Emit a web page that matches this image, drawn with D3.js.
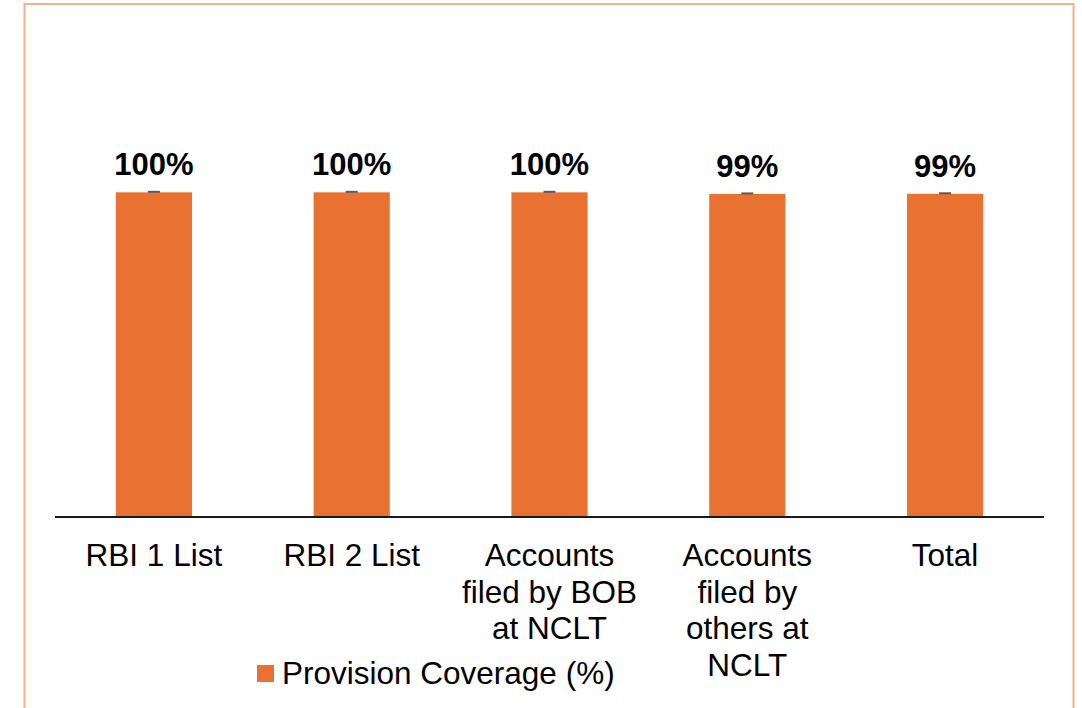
<!DOCTYPE html>
<html>
<head>
<meta charset="utf-8">
<script src="https://cdn.jsdelivr.net/npm/d3@7/dist/d3.min.js"></script>
<style>
  html, body { margin: 0; padding: 0; background: #fff; }
  svg { display: block; font-family: "Liberation Sans", Arial, sans-serif; }
</style>
</head>
<body>
<svg id="chart" width="1082" height="708"></svg>
<script>
const categories = ["RBI 1 List", "RBI 2 List", "Accounts\nfiled by BOB\nat NCLT", "Accounts\nfiled by\nothers at\nNCLT", "Total"];
const values = [99.9, 99.9, 99.9, 99.4, 99.45];
const valueLabels = ["100%", "100%", "100%", "99%", "99%"];
const seriesName = "Provision Coverage (%)";

const W = 1082, H = 708;
const svg = d3.select("#chart");

// frame
svg.append("path")
  .attr("d", `M24.5,${H + 5} L24.5,4 L1073.5,4 L1073.5,${H + 5}`)
  .attr("fill", "none").attr("stroke", "#F4B08A").attr("stroke-width", 2);

const x = d3.scaleBand().domain(categories).range([55, 1044])
  .paddingInner(0.615).paddingOuter(0.3075);
const y = d3.scaleLinear().domain([0, 120]).range([517, 127]);

const g = svg.append("g");

g.selectAll("rect.bar").data(categories).join("rect")
  .attr("class", "bar")
  .attr("x", d => x(d))
  .attr("width", x.bandwidth())
  .attr("y", (d, i) => y(values[i]))
  .attr("height", (d, i) => y(0) - y(values[i]))
  .attr("fill", "#E97132");

// small caps on top of bars
g.selectAll("rect.cap").data(categories).join("rect")
  .attr("class", "cap")
  .attr("x", d => x(d) + x.bandwidth() / 2 - 6)
  .attr("width", 12)
  .attr("y", (d, i) => y(values[i]) - 1.5)
  .attr("height", 2)
  .attr("fill", "#5A5A5A");

// value labels
g.selectAll("text.val").data(categories).join("text")
  .attr("class", "val")
  .attr("x", d => x(d) + x.bandwidth() / 2)
  .attr("y", (d, i) => y(values[i]) - 17)
  .attr("text-anchor", "middle")
  .attr("font-size", 31).attr("font-weight", "bold").attr("fill", "#000")
  .text((d, i) => valueLabels[i]);

// axis line
const xAxis = d3.axisBottom(x).tickSize(0).tickFormat("");
const ax = g.append("g").attr("transform", "translate(0,517)").call(xAxis);
ax.select(".domain").attr("stroke", "#1a1a1a").attr("stroke-width", 2)
  .attr("d", "M55,0H1044");

// category labels
const catG = g.selectAll("text.cat").data(categories).join("text")
  .attr("class", "cat")
  .attr("x", d => x(d) + x.bandwidth() / 2)
  .attr("y", 566)
  .attr("text-anchor", "middle")
  .attr("font-size", 31.5).attr("fill", "#000");
catG.each(function(d) {
  const t = d3.select(this);
  d.split("\n").forEach((line, i) => {
    t.append("tspan").attr("x", x(d) + x.bandwidth() / 2)
      .attr("dy", i === 0 ? 0 : 36.5).text(line);
  });
});

// legend
const lg = svg.append("g").attr("transform", "translate(257,665)");
lg.append("rect").attr("width", 17).attr("height", 17).attr("fill", "#E97132");
lg.append("text").attr("x", 25).attr("y", 18.5)
  .attr("font-size", 31.5).attr("fill", "#000").text(seriesName);
</script>
</body>
</html>
